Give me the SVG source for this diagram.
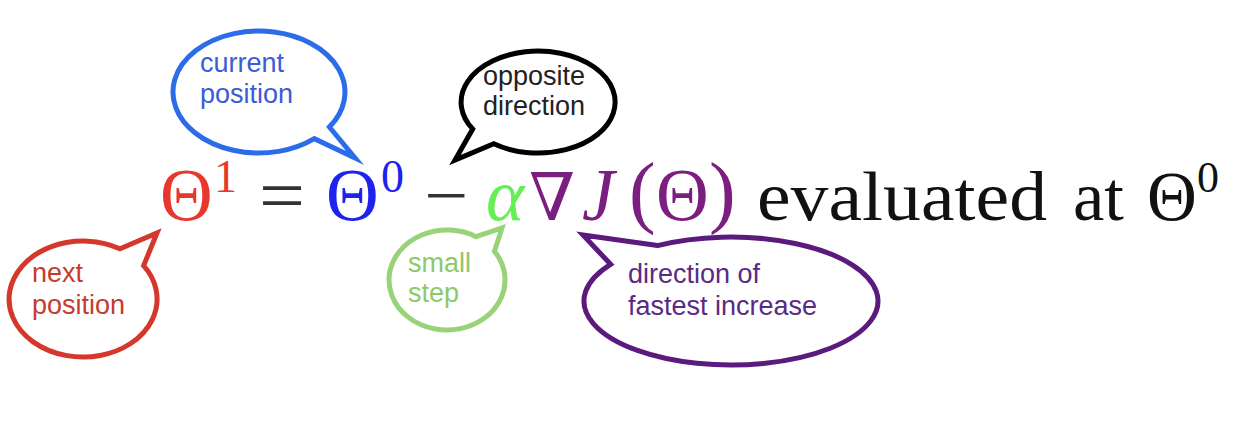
<svg xmlns="http://www.w3.org/2000/svg" width="1260" height="436" viewBox="0 0 1260 436">
<style>
.bub{fill:#fff;stroke-width:5;stroke-linejoin:miter;stroke-miterlimit:12}
.lbl{font-family:"Liberation Sans",Arial,sans-serif;font-size:27px}
.m{font-family:"Liberation Serif","Times New Roman",serif;font-size:73px}
.e{font-family:"Liberation Serif","Times New Roman",serif;font-size:69px;fill:#111}
.sup{font-family:"Liberation Serif","Times New Roman",serif;font-size:46px}
.it{font-style:italic}
.par{font-family:"Liberation Serif","Times New Roman",serif;font-size:80px}
</style>
<rect width="1260" height="436" fill="#fff"/>
<g id="connectors"/>
<g id="equation">
<text class="m" x="160" y="220" fill="#e8382e">Θ</text>
<text class="sup" x="214" y="192" fill="#e8382e">1</text>
<text class="m" x="259" y="220" fill="#333" textLength="46" lengthAdjust="spacingAndGlyphs">=</text>
<text class="m" x="326" y="220" fill="#1e22ee">Θ</text>
<text class="sup" x="381" y="192" fill="#1e22ee">0</text>
<text class="m" x="424" y="220" fill="#333" textLength="44" lengthAdjust="spacingAndGlyphs">−</text>
<text class="m it" x="486" y="220" fill="#66ee55">α</text>
<text x="529" y="220" fill="#7a1e80" style="font-family:'DejaVu Serif',serif;font-size:66px">∇</text>
<text class="m it" x="582" y="220" fill="#7a1e80">J</text>
<text class="par" x="629" y="218" fill="#7a1e80">(</text>
<text class="m" x="656" y="220" fill="#7a1e80">Θ</text>
<text class="par" x="709" y="218" fill="#7a1e80">)</text>
<text class="e" x="757" y="220" textLength="290" lengthAdjust="spacingAndGlyphs">evaluated</text>
<text class="e" x="1073" y="220" textLength="51" lengthAdjust="spacingAndGlyphs">at</text>
<text class="e" x="1147" y="220">Θ</text>
<text class="sup" x="1197" y="192" fill="#111" style="font-size:44px">0</text>
</g>
<g id="bubble-current">
<path class="bub" stroke="#2b6de8" d="M329.4 127 L355 158 L314.3 138.7 A86 61 0 1 1 329.4 127 Z"/>
<text class="lbl" x="200" y="72" fill="#3b5cd6">current</text>
<text class="lbl" x="200" y="103" fill="#3b5cd6">position</text>
</g>
<g id="bubble-opposite">
<path class="bub" stroke="#000" d="M472.7 129 L455 160 L493.8 143.8 A77 51 0 1 0 472.7 129 Z"/>
<text class="lbl" x="483" y="85" fill="#222">opposite</text>
<text class="lbl" x="483" y="115" fill="#222">direction</text>
</g>
<g id="bubble-next">
<path class="bub" stroke="#d4372b" d="M120 248.8 L157 233 L143.6 265.7 A74 58 0 1 1 120 248.8 Z"/>
<text class="lbl" x="32" y="282" fill="#c83a30">next</text>
<text class="lbl" x="32" y="314" fill="#c83a30">position</text>
</g>
<g id="bubble-small">
<path class="bub" stroke="#98d37a" d="M476 236.7 L502 228 L494.5 251.3 A58 50 0 1 1 476 236.7 Z"/>
<text class="lbl" x="408" y="272" fill="#8cc96a">small</text>
<text class="lbl" x="408" y="302" fill="#8cc96a">step</text>
</g>
<g id="bubble-direction">
<path class="bub" stroke="#5a1a7e" d="M657.5 245.6 L583 235 L610.6 264.3 A147 64 0 1 0 657.5 245.6 Z"/>
<text class="lbl" x="628" y="283" fill="#5a2a84">direction of</text>
<text class="lbl" x="628" y="315" fill="#5a2a84">fastest increase</text>
</g>
</svg>
